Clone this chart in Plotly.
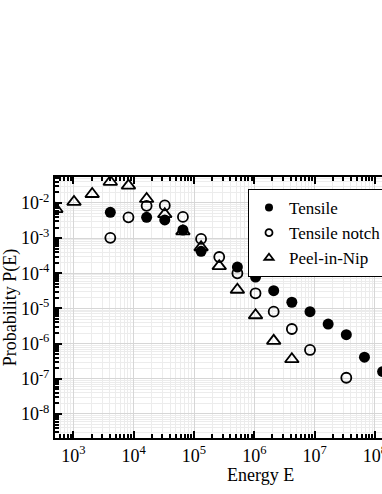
import plotly.graph_objects as go

# energy bins and probabilities
tensile_E = [4096, 16384, 32768, 65536, 131072, 524288, 1048576, 2097152,
             4194304, 8388608, 16777216, 33554432, 67108864, 134217728]
tensile_P = [5.4e-3, 3.9e-3, 3.3e-3, 1.7e-3, 4.2e-4, 1.5e-4, 7.8e-5, 3.2e-5,
             1.5e-5, 8.1e-6, 3.6e-6, 1.8e-6, 4.1e-7, 1.6e-7]

notch_E = [4096, 8192, 16384, 32768, 65536, 131072, 262144, 524288,
           1048576, 2097152, 4194304, 8388608, 33554432]
notch_P = [1.02e-3, 3.9e-3, 8.3e-3, 8.5e-3, 4.0e-3, 9.5e-4, 2.9e-4, 1.0e-4,
           2.7e-5, 8.1e-6, 2.6e-6, 6.6e-7, 1.07e-7]

peel_E = [512, 1024, 2048, 4096, 8192, 16384, 32768, 65536, 131072,
          262144, 524288, 1048576, 2097152, 4194304]
peel_P = [6.7e-3, 1.07e-2, 1.8e-2, 4.0e-2, 3.1e-2, 1.3e-2, 4.8e-3, 1.55e-3,
          5.5e-4, 1.6e-4, 3.4e-5, 6.4e-6, 1.2e-6, 3.6e-7]

names = ['Tensile', 'Tensile notch', 'Peel-in-Nip']

x_tickvals = [1e3, 1e4, 1e5, 1e6, 1e7, 1e8, 1e9]
x_ticktext = ['10<sup>3</sup>', '10<sup>4</sup>', '10<sup>5</sup>', '10<sup>6</sup>',
              '10<sup>7</sup>', '10<sup>8</sup>', '10<sup>9</sup>']
y_tickvals = [1e-2, 1e-3, 1e-4, 1e-5, 1e-6, 1e-7, 1e-8]
y_ticktext = ['10<sup>-2</sup>', '10<sup>-3</sup>', '10<sup>-4</sup>', '10<sup>-5</sup>',
              '10<sup>-6</sup>', '10<sup>-7</sup>', '10<sup>-8</sup>']

FONT = "Liberation Serif"
# the original figure is wider than the window; the page clips its right part
W, H = 475, 494
x_range = [2.695, 9.494]
y_range = [-8.684, -1.262]

styles = [
    dict(symbol='circle', size=11, color='black', line=dict(color='black', width=0)),
    dict(symbol='circle-open', size=10, color='black', line=dict(color='black', width=1.8)),
    dict(symbol='triangle-up-open', size=12, color='black', line=dict(color='black', width=1.8)),
]
legend_styles = [
    dict(symbol='circle', size=8, color='black', line=dict(width=0)),
    dict(symbol='circle-open', size=7, color='black', line=dict(color='black', width=1.8)),
    dict(symbol='triangle-up-open', size=8, color='black', line=dict(color='black', width=1.8)),
]

fig = go.Figure()
for xs, ys, st in zip([tensile_E, notch_E, peel_E], [tensile_P, notch_P, peel_P], styles):
    fig.add_trace(go.Scatter(x=xs, y=ys, mode='markers', marker=st, showlegend=False))
# small legend-only entries
for name, st in zip(names, legend_styles):
    fig.add_trace(go.Scatter(x=[None], y=[None], mode='markers', name=name, marker=st))

minor = dict(ticks='inside', ticklen=4, tickcolor='black', showgrid=True,
             gridcolor='#ececec', gridwidth=1, dtick='D1')
axis_common = dict(type='log', automargin=False,
                   showline=True, linecolor='black', linewidth=2, mirror='ticks',
                   ticks='inside', ticklen=7, tickwidth=1.5, tickcolor='black',
                   showgrid=True, gridcolor='#d6d6d6', gridwidth=1.2,
                   zeroline=False, minor=minor, tickfont=dict(size=18))

fig.update_layout(
    template='none',
    width=W, height=H,
    margin=dict(l=55, r=10, t=177, b=56),
    plot_bgcolor='white', paper_bgcolor='white',
    font=dict(family=FONT, size=18, color='black'),
    xaxis=dict(range=x_range, tickvals=x_tickvals, ticktext=x_ticktext, **axis_common),
    yaxis=dict(range=y_range, tickvals=y_tickvals, ticktext=y_ticktext, **axis_common),
    legend=dict(x=0.4707, y=0.954, xanchor='left', yanchor='top',
                bgcolor='white', bordercolor='black', borderwidth=1,
                font=dict(family=FONT, size=17), itemsizing='trace',
                tracegroupgap=0),
    annotations=[
        dict(text='Energy E', x=0.5, y=-0.142, xref='paper', yref='paper',
             showarrow=False, font=dict(family=FONT, size=18),
             xanchor='center', yanchor='middle'),
        dict(text='Probability P(E)', x=-0.108, y=0.5, xref='paper', yref='paper',
             showarrow=False, textangle=-90, font=dict(family=FONT, size=18),
             xanchor='center', yanchor='middle'),
    ],
)

fig.write_html("out.html",
               config={'responsive': False, 'displayModeBar': False},
               post_script="document.body.style.margin='0';document.body.style.overflow='hidden';")
